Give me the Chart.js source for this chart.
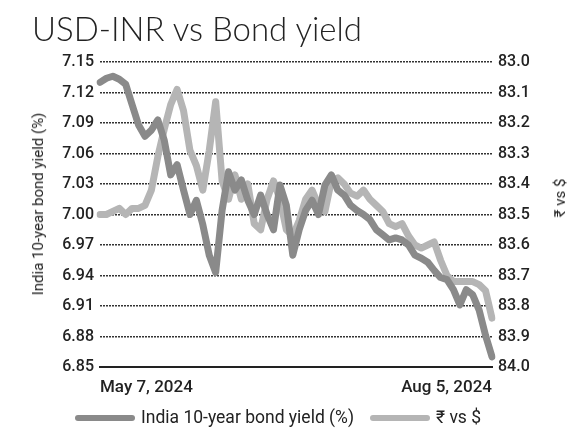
<!DOCTYPE html>
<html>
<head>
<meta charset="utf-8">
<script src="https://cdn.jsdelivr.net/npm/chart.js@4"></script>
<style>
  html, body { margin: 0; padding: 0; background: #fff; }
  #wrap { position: relative; width: 581px; height: 440px; }
  #title { position: absolute; left: 32px; top: 8px; font: 300 33px "Lato", "Roboto", sans-serif; color: #222; white-space: nowrap; }
  .ytitle { position: absolute; font: 15px "Roboto", sans-serif; color: #222; white-space: nowrap; transform: translate(-50%, -50%) rotate(-90deg); }
  #legend { position: absolute; left: 0; top: 405px; width: 581px; font: 17.5px "Roboto", sans-serif; color: #222; }
  .item { position: absolute; top: 0; height: 24px; line-height: 24px; white-space: nowrap; }
  .swatch { display: inline-block; width: 60px; height: 6px; border-radius: 3px; vertical-align: middle; margin-right: 6px; }
</style>
</head>
<body>
<div id="wrap">
  <canvas id="chart" width="581" height="440"></canvas>
  <div id="title">USD-INR vs Bond yield</div>
  <div class="ytitle" style="left:38px; top:204px">India 10-year bond yield (%)</div>
  <div class="ytitle" style="left:560px; top:198px">₹ vs $</div>
  <div id="legend">
    <span class="item" style="left:75px"><span class="swatch" style="background:#8a8a8a"></span>India 10-year bond yield (%)</span>
    <span class="item" style="left:370px"><span class="swatch" style="background:#b5b5b5"></span>₹ vs $</span>
  </div>
</div>
<script>
// trading days, May 7 - Aug 5, 2024
const dates = [
  "May 7", "May 8", "May 9", "May 10", "May 13", "May 14", "May 15", "May 16", "May 17", "May 21",
  "May 22", "May 23", "May 24", "May 27", "May 28", "May 29", "May 30", "May 31",
  "Jun 3", "Jun 4", "Jun 5", "Jun 6", "Jun 7", "Jun 10", "Jun 11", "Jun 12", "Jun 13", "Jun 14",
  "Jun 18", "Jun 19", "Jun 20", "Jun 21", "Jun 24", "Jun 25", "Jun 26", "Jun 27", "Jun 28",
  "Jul 1", "Jul 2", "Jul 3", "Jul 4", "Jul 5", "Jul 8", "Jul 9", "Jul 10", "Jul 11", "Jul 12",
  "Jul 15", "Jul 16", "Jul 18", "Jul 19", "Jul 22", "Jul 23", "Jul 24", "Jul 25", "Jul 26",
  "Jul 29", "Jul 30", "Jul 31", "Aug 1", "Aug 2", "Aug 5"
];

const bondYield = [
  7.130, 7.134, 7.136, 7.133, 7.128, 7.108, 7.088, 7.077, 7.083, 7.093,
  7.073, 7.039, 7.049, 7.024, 7.000, 7.014, 6.990, 6.960, 6.943, 7.004,
  7.042, 7.024, 7.034, 7.014, 7.000, 7.019, 7.000, 6.985, 7.029, 7.009,
  6.960, 6.985, 7.004, 7.014, 7.000, 7.029, 7.039, 7.024, 7.019, 7.009,
  7.004, 7.000, 6.995, 6.985, 6.980, 6.975, 6.977, 6.975, 6.970, 6.960,
  6.957, 6.953, 6.945, 6.938, 6.936, 6.926, 6.911, 6.926, 6.921, 6.906,
  6.881, 6.860
];

const rupeeVsDollar = [
  83.50, 83.50, 83.49, 83.48, 83.50, 83.48, 83.48, 83.47, 83.42, 83.31,
  83.22, 83.14, 83.09, 83.16, 83.29, 83.34, 83.42, 83.29, 83.13, 83.39,
  83.45, 83.37, 83.45, 83.40, 83.53, 83.55, 83.45, 83.39, 83.45, 83.55,
  83.57, 83.52, 83.45, 83.42, 83.47, 83.49, 83.39, 83.38, 83.40, 83.43,
  83.44, 83.42, 83.45, 83.47, 83.49, 83.53, 83.54, 83.53, 83.57, 83.60,
  83.61, 83.60, 83.59, 83.65, 83.70, 83.72, 83.72, 83.72, 83.72, 83.73,
  83.75, 83.84
];

const tickFont = { family: "Roboto", size: 16, weight: "500" };

new Chart(document.getElementById("chart").getContext("2d"), {
  type: "line",
  data: {
    labels: dates,
    datasets: [
      { label: "India 10-year bond yield (%)", data: bondYield, yAxisID: "y", borderColor: "#8a8a8a", borderWidth: 7, pointRadius: 0, tension: 0, borderJoinStyle: "round", borderCapStyle: "round" },
      { label: "₹ vs $", data: rupeeVsDollar, yAxisID: "y1", borderColor: "#b5b5b5", borderWidth: 7, pointRadius: 0, tension: 0, borderJoinStyle: "round", borderCapStyle: "round" },
    ],
  },
  options: {
    responsive: false, animation: false,
    layout: { padding: { left: 28, right: 14, top: 62, bottom: 43 } },
    plugins: { legend: { display: false }, tooltip: { enabled: false } },
    scales: {
      x: {
        grid: { display: false },
        border: { display: true, color: "#222", width: 2 },
        afterFit: s => { s.height = 30; },
        ticks: {
          autoSkip: false, maxRotation: 0, align: "inner", padding: 3, color: "#222", font: { family: "Roboto", size: 17, weight: "500" },
          callback: (v, i) => (i === 0 || i === dates.length - 1) ? dates[i] + ", 2024" : null,
        },
      },
      y: {
        position: "left", min: 6.85, max: 7.15,
        afterFit: s => { s.width = 72; },
        grid: { color: "rgba(0,0,0,0)", lineWidth: 2, drawTicks: false },
        border: { display: false },
        ticks: { stepSize: 0.03, padding: 6, color: "#222", font: tickFont, callback: v => v.toFixed(2) },
      },
      y1: {
        position: "right", min: 83, max: 84, reverse: true,
        afterFit: s => { s.width = 75; },
        // dotted rules, shared by both axes (ticks line up)
        grid: { color: "#333", lineWidth: 1.5, drawTicks: false },
        border: { display: false, dash: [2, 1] },
        ticks: { stepSize: 0.1, padding: 6, color: "#222", font: tickFont, callback: v => v.toFixed(1) },
      },
    },
  },
});
</script>
</body>
</html>
